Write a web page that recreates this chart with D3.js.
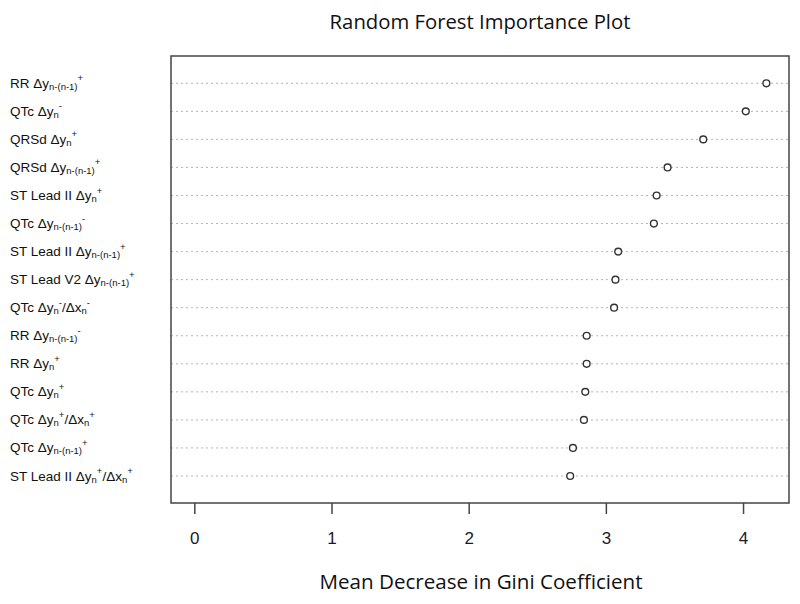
<!DOCTYPE html>
<html>
<head>
<meta charset="utf-8">
<script src="https://cdn.jsdelivr.net/npm/d3@7"></script>
<style>
  body { margin: 0; background: #fff; }
  svg { display: block; }
  .arial { font-family: "Liberation Sans", Arial, Helvetica, sans-serif; }
  .calib { font-family: "Open Sans", "Noto Sans", sans-serif; }
</style>
</head>
<body>
<svg id="viz" width="800" height="604"></svg>
<script>
// labels use a tiny markup: _{..} subscript, ^{..} superscript
const features = [
  'RR Δy_{n-(n-1)}^{+}',
  'QTc Δy_{n}^{-}',
  'QRSd Δy_{n}^{+}',
  'QRSd Δy_{n-(n-1)}^{+}',
  'ST Lead II Δy_{n}^{+}',
  'QTc Δy_{n-(n-1)}^{-}',
  'ST Lead II Δy_{n-(n-1)}^{+}',
  'ST Lead V2 Δy_{n-(n-1)}^{+}',
  'QTc Δy_{n}^{-}/Δx_{n}^{-}',
  'RR Δy_{n-(n-1)}^{-}',
  'RR Δy_{n}^{+}',
  'QTc Δy_{n}^{+}',
  'QTc Δy_{n}^{+}/Δx_{n}^{+}',
  'QTc Δy_{n-(n-1)}^{+}',
  'ST Lead II Δy_{n}^{+}/Δx_{n}^{+}'
]
const giniDecrease = [4.17, 4.02, 3.71, 3.45, 3.37, 3.35, 3.09, 3.07, 3.06, 2.86, 2.86, 2.85, 2.84, 2.76, 2.74]
const xTicks = [0, 1, 2, 3, 4]

const svg = d3.select('#viz')
const boxL = 171, boxR = 789, boxT = 56, boxB = 503

const x = d3.scaleLinear().domain([-0.17, 4.335]).range([boxL, boxR])
const y = d3.scalePoint().domain(features).range([83.3, 476])

// split label markup into pieces
const parseLabel = (s) => {
  let parts = []
  let re = /([_^])\{([^}]*)\}|([^_^]+)/g
  let m
  while ((m = re.exec(s)) !== null) {
    if (m[3]) parts.push({t: m[3], k: 'n'})
    else parts.push({t: m[2], k: m[1] === '_' ? 'sub' : 'sup'})
  }
  return parts
}

// dotted guide lines
svg.append('g').selectAll('line')
  .data(features)
  .enter()
  .append('line')
  .attr('x1', boxL)
  .attr('x2', boxR)
  .attr('y1', d => y(d))
  .attr('y2', d => y(d))
  .style('stroke', '#b4b4b4')
  .style('stroke-width', 1)
  .style('stroke-dasharray', '2,3')

// points
svg.append('g').selectAll('circle')
  .data(features)
  .enter()
  .append('circle')
  .attr('cx', (d, i) => x(giniDecrease[i]))
  .attr('cy', d => y(d))
  .attr('r', 3.4)
  .style('fill', '#fff')
  .style('stroke', '#333')
  .style('stroke-width', 1.4)

// box
svg.append('rect')
  .attr('x', boxL)
  .attr('y', boxT)
  .attr('width', boxR - boxL)
  .attr('height', boxB - boxT)
  .style('fill', 'none')
  .style('stroke', '#444')
  .style('stroke-width', 1.5)

// x axis
let xAxis = svg.append('g')
  .attr('transform', `translate(0,${boxB})`)
  .call(d3.axisBottom(x).tickValues(xTicks).tickSize(11).tickPadding(18).tickFormat(d3.format('d')))
xAxis.select('.domain').remove()
xAxis.attr('font-family', null).attr('font-size', null)
xAxis.selectAll('line').style('stroke', '#444').style('stroke-width', 1.5)
xAxis.selectAll('text')
  .attr('class', 'arial')
  .style('font-size', '17px')
  .style('fill', '#1a1a2e')

// y labels
let labels = svg.append('g').selectAll('text')
  .data(features)
  .enter()
  .append('text')
  .attr('class', 'arial')
  .attr('x', 10)
  .attr('y', d => y(d) + 4.5)
  .style('font-size', '13.5px')
  .style('fill', '#111')

labels.each(function (d) {
  let t = d3.select(this)
  let shift = 0
  parseLabel(d).forEach(p => {
    let target = p.k === 'sub' ? 2 : p.k === 'sup' ? -6.5 : 0
    let ts = t.append('tspan').text(p.t).attr('dy', target - shift)
    shift = target
    if (p.k !== 'n') ts.style('font-size', '9.5px')
  })
})

// title and axis title
svg.append('text')
  .attr('class', 'calib')
  .attr('x', 480)
  .attr('y', 29)
  .attr('text-anchor', 'middle')
  .style('font-size', '20.3px')
  .style('fill', '#111')
  .text('Random Forest Importance Plot')

svg.append('text')
  .attr('class', 'calib')
  .attr('x', 481)
  .attr('y', 589)
  .attr('text-anchor', 'middle')
  .style('font-size', '20.6px')
  .style('fill', '#111')
  .text('Mean Decrease in Gini Coefficient')
</script>
</body>
</html>
